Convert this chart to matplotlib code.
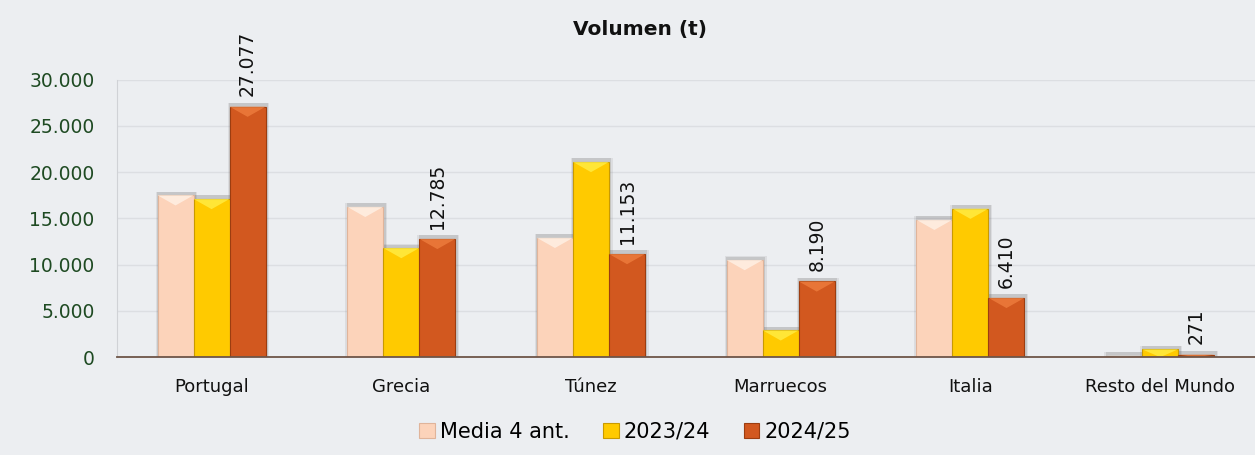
import numpy as np
import matplotlib.pyplot as plt
from matplotlib.patches import Polygon

###############################################################################

# Categories and series values (t)
paises = ['Portugal', 'Grecia', 'Túnez', 'Marruecos', 'Italia',
          'Resto del Mundo']
media_4_ant = [17500, 16250, 12900, 10500, 14850, 150]
campana_2324 = [17100, 11800, 21100, 2900, 16050, 850]
campana_2425 = [27077, 12785, 11153, 8190, 6410, 271]

series_names = ['Media 4 ant.', '2023/24', '2024/25']
yticks = [0, 5000, 10000, 15000, 20000, 25000, 30000]

###############################################################################

colors = ['#fcd3ba', '#ffca00', '#d2581f']
edges = ['#e0b49a', '#c99a00', '#9c3d10']
tops = ['#fff4ea', '#fff04a', '#f08040']


def fmt_es(v):
    # Spanish thousands separator
    return '{:,.0f}'.format(v).replace(',', '.')


fig = plt.figure(figsize=(12.55, 4.55), dpi=100)
fig.patch.set_facecolor('#eceef1')
ax = fig.add_axes([0.093, 0.215, 0.907, 0.61])
ax.set_facecolor('#eceef1')

x = np.arange(len(paises))
width = 0.19
offsets = [-width, 0, width]
all_series = [media_4_ant, campana_2324, campana_2425]

for ii, vals in enumerate(all_series):
    xs = x + offsets[ii]
    # soft shadow behind each bar
    for grow, alpha in [(1.16, 0.12), (1.08, 0.2)]:
        ax.bar(xs + 0.005, np.array(vals) + 350 * grow, width=width * grow,
               color='#6a6a6a', alpha=alpha, zorder=2, linewidth=0)
    ax.bar(xs, vals, width=width, color=colors[ii], edgecolor=edges[ii],
           linewidth=0.8, zorder=3, label=series_names[ii])
    # bevel highlight on the top of each bar
    for xc, v in zip(xs, vals):
        h = min(1100, v)
        tri = Polygon([[xc - width / 2, v], [xc + width / 2, v],
                       [xc, v - h]], closed=True, facecolor=tops[ii],
                      edgecolor='none', alpha=0.75, zorder=4)
        ax.add_patch(tri)

# Value labels for the last season
for xc, v in zip(x + offsets[2], campana_2425):
    ax.text(xc, v + 1100, fmt_es(v), rotation=90, ha='center', va='bottom',
            fontsize=13.5, color='#111111', zorder=5)

ax.set_ylim(0, 30000)
ax.set_xlim(-0.5, len(paises) - 0.5)
ax.set_yticks(yticks)
ax.set_yticklabels([fmt_es(t) for t in yticks], fontsize=13.5,
                   color='#1e4a22')
ax.set_xticks(x)
ax.set_xticklabels(paises, fontsize=13, color='#111111')
ax.tick_params(axis='y', length=0, pad=16)
ax.tick_params(axis='x', length=0, pad=15)
ax.yaxis.grid(True, color='#dcdee2', linewidth=1.0, zorder=0)
ax.set_axisbelow(True)

for side in ['top', 'right']:
    ax.spines[side].set_visible(False)
ax.spines['left'].set_color('#d0d2d6')
ax.spines['bottom'].set_color('#6e5548')
ax.spines['bottom'].set_linewidth(1.3)
ax.spines['bottom'].set_zorder(6)

fig.text(0.51, 0.935, 'Volumen (t)', ha='center', va='center',
         fontsize=14.5, fontweight='bold', color='#111111')

leg = fig.legend(loc='lower center', ncol=3, frameon=False,
                 bbox_to_anchor=(0.506, -0.012), fontsize=15,
                 handlelength=0.75, handleheight=0.75, handletextpad=0.25,
                 columnspacing=1.6)

plt.savefig('out.png', dpi=100, facecolor=fig.get_facecolor())
